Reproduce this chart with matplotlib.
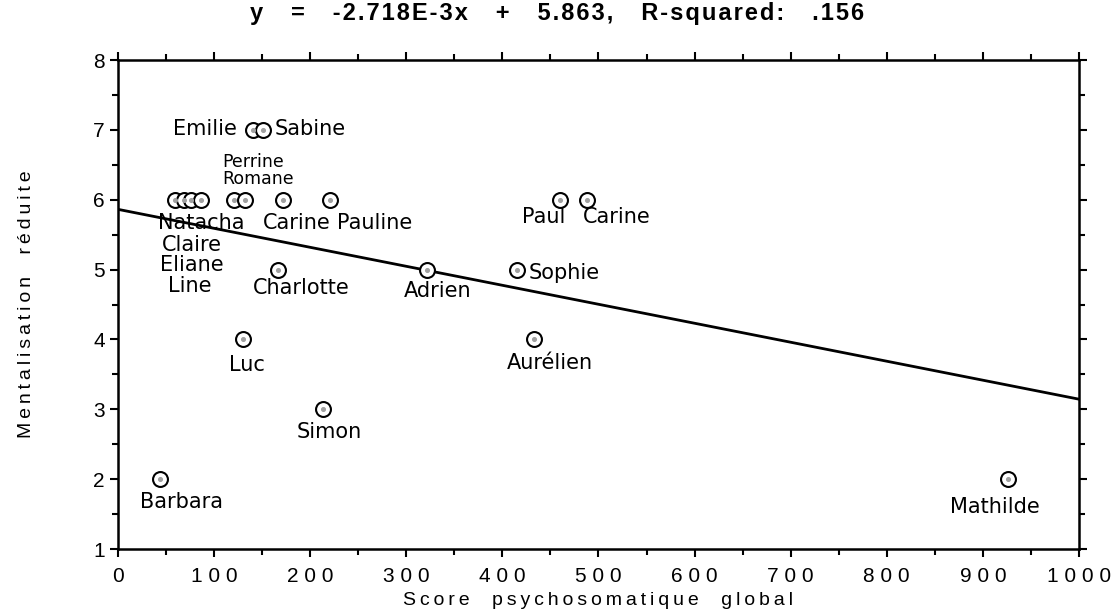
import matplotlib.pyplot as plt
import numpy as np

# values
names = ["Barbara", "Simon", "Luc", "Charlotte", "Emilie", "Sabine",
         "Natacha", "Claire", "Eliane", "Line", "Perrine", "Romane",
         "Carine", "Pauline", "Adrien", "Sophie", "Paul", "Carine",
         "Aurélien", "Mathilde"]
score = [44, 213, 130, 166, 141, 151,
         59, 69, 76, 86, 121, 132,
         172, 221, 322, 415, 460, 488,
         433, 926]
mental = [2, 3, 4, 5, 7, 7,
          6, 6, 6, 6, 6, 6,
          6, 6, 5, 5, 6, 6,
          4, 2]

# regression as printed in the title
slope = -2.718e-3
intercept = 5.863
r_squared = 0.156

# where each handwritten name sits: (x, y, ha)
label_pos = [
    (23, 1.68, "left"), (186, 2.68, "left"), (134, 3.64, "center"),
    (140, 4.73, "left"), (124, 7.02, "right"), (163, 7.02, "left"),
    (42, 5.67, "left"), (46, 5.35, "left"), (44, 5.07, "left"),
    (52, 4.76, "left"), (109, 6.54, "left"), (109, 6.30, "left"),
    (186, 5.67, "center"), (228, 5.67, "left"), (333, 4.70, "center"),
    (427, 4.95, "left"), (443, 5.76, "center"), (484, 5.76, "left"),
    (405, 3.66, "left"), (866, 1.60, "left"),
]
small_names = {"Perrine", "Romane"}


def spaced(s, gap="\u2009"):
    # imitate the wide letter spacing of the original printout
    return gap.join(s)


plt.rcParams["font.family"] = ["Liberation Sans", "DejaVu Sans"]

fig = plt.figure(figsize=(11.11, 6.15), dpi=100)
ax = fig.add_axes([0.1062, 0.1073, 0.865, 0.795])

ax.scatter(score, mental, s=115, facecolors="white", edgecolors="black",
           linewidths=1.5, zorder=3)
ax.scatter(score, mental, s=7, color="#a0a0a0", zorder=4)

xl = np.array([0, 1000])
ax.plot(xl, slope * xl + intercept, color="black", lw=2, zorder=2)

for name, (tx, ty, ha) in zip(names, label_pos):
    ax.text(tx, ty, name, ha=ha, va="center",
            fontsize=12.5 if name in small_names else 15,
            family="DejaVu Sans")

ax.set_xlim(0, 1000)
ax.set_ylim(1, 8)
xt = np.arange(0, 1001, 100)
ax.set_xticks(xt)
ax.set_xticklabels([" ".join(str(v)) for v in xt])
ax.set_xticks(np.arange(50, 1000, 100), minor=True)
ax.set_yticks(np.arange(1, 9, 1))
ax.set_yticks(np.arange(1.5, 8, 0.5), minor=True)
ax.tick_params(which="both", direction="out", top=True, right=True,
               labelsize=15, width=1.5)
ax.tick_params(which="major", length=6)
ax.tick_params(axis="x", which="major", pad=7)
ax.tick_params(which="minor", length=4)
for s in ax.spines.values():
    s.set_linewidth(1.8)

ax.set_xlabel(spaced("Score  psychosomatique  global"), fontsize=14,
              labelpad=4)
ax.set_ylabel(spaced("Mentalisation  réduite"), fontsize=14, labelpad=42)
title = (f"y   =   {slope * 1000:.3f}E-3x   +   {intercept:.3f},   "
         f"R-squared:   .{int(round(r_squared * 1000))}")
ax.set_title(spaced(title, "\u200a"), fontsize=17, fontweight="bold",
             pad=29, x=0.457)

fig.savefig("out.png", dpi=100)
